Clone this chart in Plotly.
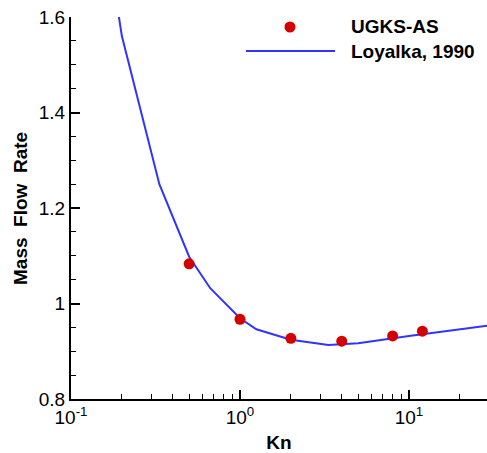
import plotly.graph_objects as go

# UGKS-AS results
ugks_kn = [0.5, 1.0, 2.0, 4.0, 8.0, 12.0]
ugks_q = [1.083, 0.967, 0.927, 0.921, 0.932, 0.942]

# Loyalka, 1990 reference
loy_kn = [0.1, 0.2, 0.3333, 0.5, 0.6667, 1.0, 1.25, 2.0, 3.3333, 5.0, 10.0, 20.0, 30.0]
loy_q = [2.25, 1.56, 1.25, 1.098, 1.032, 0.969, 0.946, 0.924, 0.913, 0.917, 0.932, 0.946, 0.954]

x_major = [0.1, 1, 10]
x_major_text = ["10<sup>-1</sup>", "10<sup>0</sup>", "10<sup>1</sup>"]
x_minor = [0.2, 0.3, 0.4, 0.5, 0.6, 0.7, 0.8, 0.9, 2, 3, 4, 5, 6, 7, 8, 9, 20]
y_major = [0.8, 1.0, 1.2, 1.4, 1.6]
y_major_text = ["0.8", "1", "1.2", "1.4", "1.6"]

W, H = 487, 453
ML, MR, MT, MB = 71, 0, 17, 54
PW = W - ML - MR
PH = H - MT - MB
DEC = 169.0  # px per decade


def px(xp):
    return (xp - ML) / PW


def py(yp):
    return (H - MB - yp) / PH


FONT = "Liberation Sans, Arial, Helvetica, sans-serif"
FS = 19
RED = "#d40000"
BLUE = "#3333ff"

fig = go.Figure()
fig.add_trace(go.Scatter(x=loy_kn, y=loy_q, mode="lines", name="Loyalka, 1990",
                         line=dict(color=BLUE, width=2), showlegend=False))
fig.add_trace(go.Scatter(x=ugks_kn, y=ugks_q, mode="markers", name="UGKS-AS",
                         marker=dict(color=RED, size=11, line=dict(width=0)),
                         showlegend=False))

axis_common = dict(
    showgrid=False, zeroline=False, showline=True, linecolor="black", linewidth=2,
    ticks="inside", tickcolor="black", tickwidth=1.5, ticklen=9,
    tickfont=dict(family=FONT, size=FS, color="black"), mirror=False,
)

fig.update_xaxes(type="log", range=[-1, -1 + PW / DEC], tickmode="array",
                 tickvals=x_major, ticktext=x_major_text,
                 minor=dict(tickmode="array", tickvals=x_minor, ticks="inside",
                            ticklen=5, tickwidth=1.2, tickcolor="black"),
                 title=dict(text="<b>Kn</b>", font=dict(family=FONT, size=FS, color="black"),
                            standoff=13),
                 **axis_common)
fig.update_yaxes(range=[0.8, 1.6], tickmode="array", tickvals=y_major, ticktext=y_major_text,
                 minor=dict(dtick=0.05, tick0=0.8, ticks="inside", ticklen=5, tickwidth=1.2,
                            tickcolor="black"),
                 **axis_common)

# y-axis title
fig.add_annotation(text="<b>Mass\u00a0 Flow\u00a0 Rate</b>", textangle=-90, xref="paper", yref="paper",
                   x=px(20), y=py(209), xanchor="center", yanchor="middle", showarrow=False,
                   font=dict(family=FONT, size=FS, color="black"))

# legend drawn in paper coordinates
fig.add_shape(type="circle", xref="paper", yref="paper", xsizemode="pixel", ysizemode="pixel",
              xanchor=px(290), yanchor=py(27), x0=-5.5, x1=5.5, y0=-5.5, y1=5.5,
              fillcolor=RED, line=dict(width=0))
fig.add_shape(type="line", xref="paper", yref="paper", x0=px(246), x1=px(335), y0=py(51), y1=py(51),
              line=dict(color=BLUE, width=2))
fig.add_annotation(text="<b>UGKS-AS</b>", xref="paper", yref="paper", x=px(349), y=py(27),
                   xanchor="left", yanchor="middle", showarrow=False,
                   font=dict(family=FONT, size=FS, color="black"))
fig.add_annotation(text="<b>Loyalka, 1990</b>", xref="paper", yref="paper", x=px(349), y=py(51),
                   xanchor="left", yanchor="middle", showarrow=False,
                   font=dict(family=FONT, size=FS, color="black"))

fig.update_layout(width=W, height=H, margin=dict(l=ML, r=MR, t=MT, b=MB),
                  plot_bgcolor="white", paper_bgcolor="white", showlegend=False,
                  font=dict(family=FONT, size=FS, color="black"))

fig.write_html("out.html")
